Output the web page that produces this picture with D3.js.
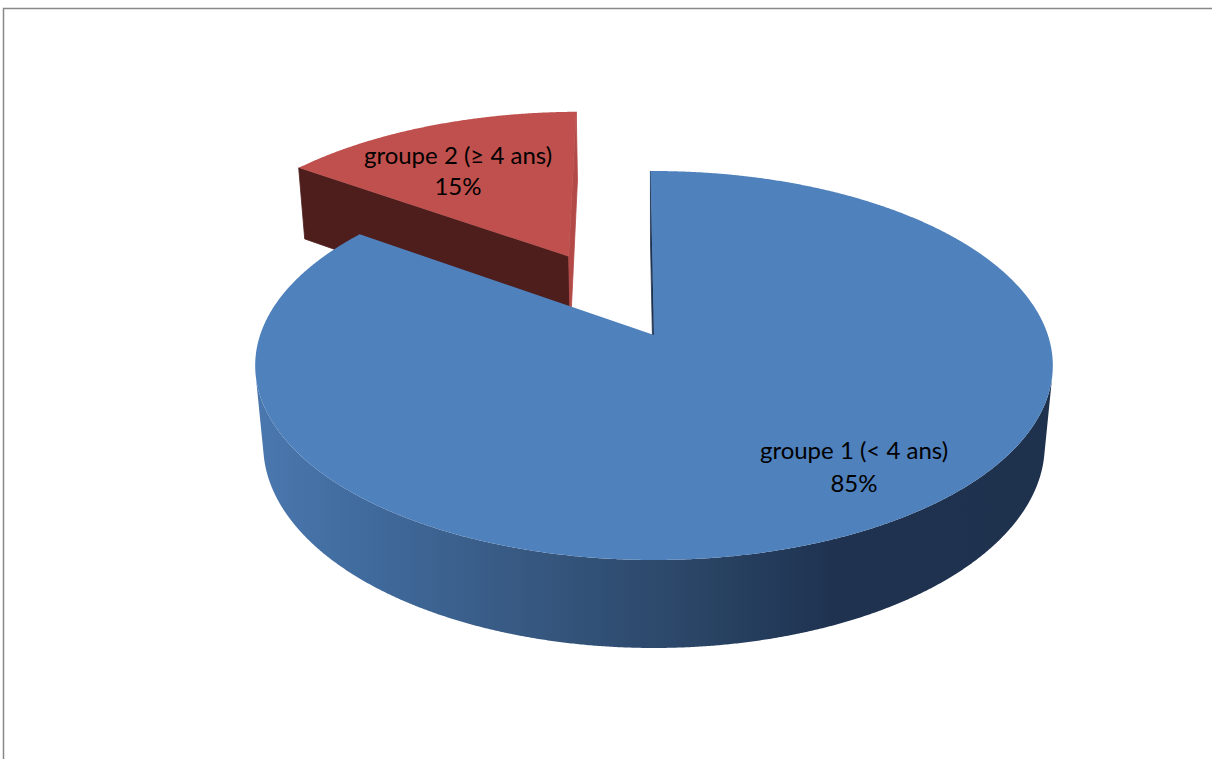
<!DOCTYPE html>
<html><head><meta charset="utf-8">
<script src="https://cdn.jsdelivr.net/npm/d3@7"></script>
<style>html,body{margin:0;padding:0;background:#fff;overflow:hidden}</style>
</head><body>
<svg id="chart" width="1212" height="759"></svg>
<script>
// ---- data ----
const categories = ["groupe 1 (< 4 ans)", "groupe 2 (\u2265 4 ans)"];
const values = [85, 15];
const percentLabels = ["85%", "15%"];
const explodeAmount = [0, 0.5];

// ---- style / layout ----
const topColors = ["#4F81BD", "#C0504D"];
const startFaceColors = ["#1F3350", "#4E1E1D"];
const endFaceColors = ["#1F3350", "#B34A47"];
const sideColors = [null, "#5A2322"];
const labelPos = [{x: 854, y: 459, dy: 33}, {x: 458, y: 164, dy: 31}];

const W = 1212, H = 759;
const CX = 654, CY = 335;     // projected pie centre
const F = 2201, D = 5.588;    // focal length, camera distance (radius = 1)
const S = 0.4816, C = 0.8764; // sin / cos of elevation
const HGT = 0.2332;           // pie thickness
const rot = -0.6 * Math.PI / 180;
const cam = [0, D * S, -D * C];

const svg = d3.select("#chart");
svg.append("rect").attr("width", W).attr("height", H).attr("fill", "#fff");

const defs = svg.append("defs");
const grad = defs.append("linearGradient").attr("id", "blueSide")
  .attr("gradientUnits", "userSpaceOnUse")
  .attr("x1", 258).attr("y1", 0).attr("x2", 1054).attr("y2", 0);
[[0, "#4A77AE"], [0.12, "#416C9F"], [0.35, "#36577F"], [0.55, "#2A4566"], [0.72, "#1F3351"], [1, "#1E314D"]]
  .forEach(([o, c]) => grad.append("stop").attr("offset", o).attr("stop-color", c));
const sideFill = ["url(#blueSide)", sideColors[1]];

function P(x, y, z) {
  const v = y * C + z * S, w = D + z * C - y * S;
  return [CX + F * x / w, CY - F * v / w];
}
const line = d3.line().curve(d3.curveLinearClosed);

const pie = d3.pie().sort(null).value(d => d).startAngle(rot).endAngle(rot + 2 * Math.PI);
const arcs = pie(values).map((a, i) => {
  const mid = (a.startAngle + a.endAngle) / 2;
  const e = explodeAmount[i];
  return {...a, i, ox: e * Math.sin(mid), oz: e * Math.cos(mid)};
});
// far slices first
arcs.sort((a, b) => b.oz - a.oz);

function visible(n, p) {
  return n[0] * (cam[0] - p[0]) + n[1] * (cam[1] - p[1]) + n[2] * (cam[2] - p[2]) > 0;
}

arcs.forEach(a => {
  const g = svg.append("g");
  const {ox, oz, i} = a;
  const a0 = a.startAngle, a1 = a.endAngle;
  const steps = Math.max(8, Math.ceil((a1 - a0) / (0.25 * Math.PI / 180)));
  const ang = d3.range(steps + 1).map(k => a0 + (a1 - a0) * k / steps);
  const topPt = t => P(ox + Math.sin(t), 0, oz + Math.cos(t));
  const botPt = t => P(ox + Math.sin(t), -HGT, oz + Math.cos(t));

  // outer side: contiguous runs of camera-facing strips drawn as one polygon each
  const runs = [];
  let cur = null;
  for (let k = 0; k < steps; k++) {
    const tm = (ang[k] + ang[k + 1]) / 2;
    const vis = visible([Math.sin(tm), 0, Math.cos(tm)], [ox + Math.sin(tm), -HGT / 2, oz + Math.cos(tm)]);
    if (vis) { if (!cur) { cur = [k, k + 1]; runs.push(cur); } else cur[1] = k + 1; }
    else cur = null;
  }
  runs.forEach(([k0, k1]) => {
    const ts = ang.slice(k0, k1 + 1);
    const pts = ts.map(topPt).concat(ts.slice().reverse().map(botPt));
    g.append("path").attr("d", line(pts)).attr("fill", sideFill[i]);
  });
  // radial faces
  const apexT = P(ox, 0, oz), apexB = P(ox, -HGT, oz);
  const n0 = [-Math.cos(a0), 0, Math.sin(a0)];
  if (visible(n0, [ox, 0, oz])) {
    g.append("path").attr("d", line([apexT, topPt(a0), botPt(a0), apexB]))
      .attr("fill", startFaceColors[i]).attr("stroke", startFaceColors[i]).attr("stroke-width", 0.8);
  }
  const n1 = [Math.cos(a1), 0, -Math.sin(a1)];
  if (visible(n1, [ox, 0, oz])) {
    g.append("path").attr("d", line([apexT, topPt(a1), botPt(a1), apexB]))
      .attr("fill", endFaceColors[i]).attr("stroke", endFaceColors[i]).attr("stroke-width", 0.8);
  }
  // top face
  g.append("path").attr("d", line([apexT, ...ang.map(topPt)]))
    .attr("fill", topColors[i]);
});

// labels
const lbl = svg.append("g").attr("font-family", "Lato, 'Open Sans', sans-serif")
  .attr("font-size", 24).attr("fill", "#000").attr("text-anchor", "middle");
categories.forEach((c, i) => {
  lbl.append("text").attr("x", labelPos[i].x).attr("y", labelPos[i].y).text(c);
  lbl.append("text").attr("x", labelPos[i].x).attr("y", labelPos[i].y + labelPos[i].dy).text(percentLabels[i]);
});

// frame
svg.append("rect").attr("x", 3.5).attr("y", 8.5).attr("width", W + 20).attr("height", H + 20)
  .attr("fill", "none").attr("stroke", "#888").attr("stroke-width", 1.5);
</script>
</body></html>
